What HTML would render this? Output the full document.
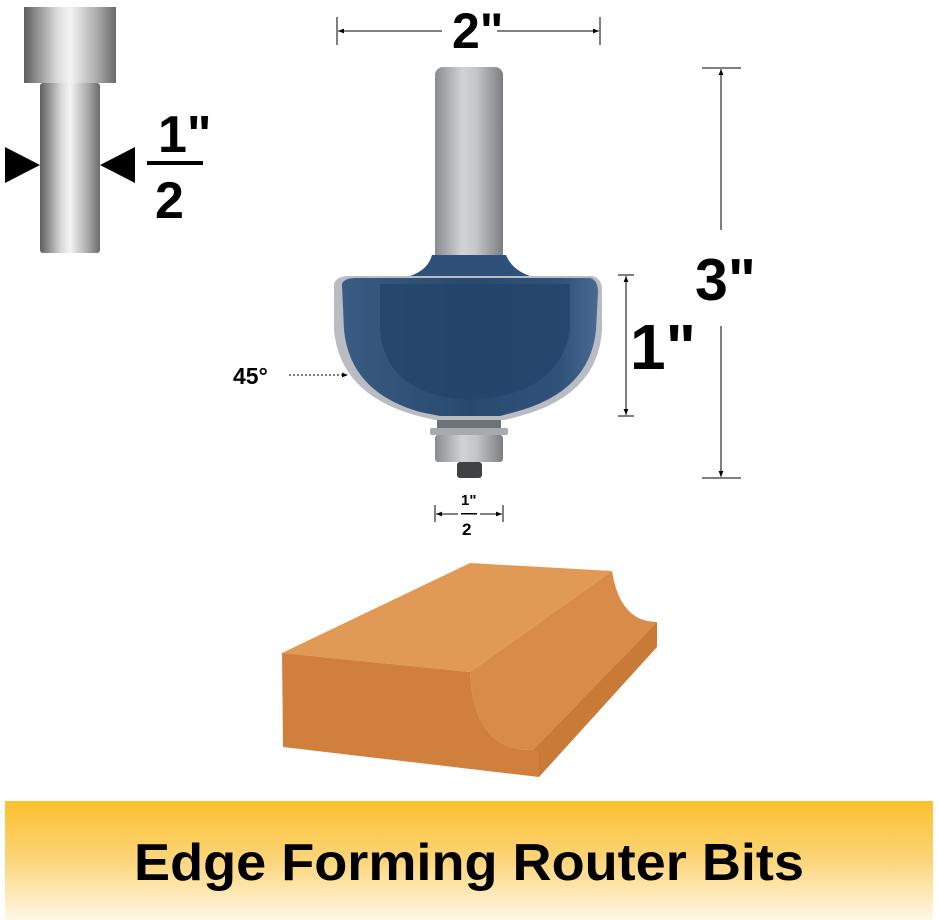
<!DOCTYPE html>
<html><head><meta charset="utf-8"><style>
html,body{margin:0;padding:0;background:#fff;width:938px;height:920px;overflow:hidden}
svg{display:block}
text{font-family:"Liberation Sans",sans-serif;font-weight:bold;fill:#000}
</style></head><body>
<svg width="938" height="920" viewBox="0 0 938 920" xmlns="http://www.w3.org/2000/svg">
<defs>
<linearGradient id="steel" x1="0" x2="1" y1="0" y2="0">
<stop offset="0" stop-color="#5e5e5e"/><stop offset="0.35" stop-color="#d8d8d8"/><stop offset="0.5" stop-color="#f4f4f4"/><stop offset="0.8" stop-color="#a9a9a9"/><stop offset="1" stop-color="#6a6a6a"/>
</linearGradient>
<linearGradient id="steel2" x1="0" x2="1" y1="0" y2="0">
<stop offset="0" stop-color="#8a8c90"/><stop offset="0.4" stop-color="#d0d2d6"/><stop offset="0.6" stop-color="#c4c6ca"/><stop offset="1" stop-color="#7c7e82"/>
</linearGradient>
<linearGradient id="blue" x1="0" x2="1" y1="0" y2="0">
<stop offset="0" stop-color="#3a5c84"/><stop offset="0.15" stop-color="#35557a"/><stop offset="0.5" stop-color="#294a70"/><stop offset="0.85" stop-color="#30527a"/><stop offset="1" stop-color="#4a6a90"/>
</linearGradient>
<linearGradient id="ban" x1="0" x2="0" y1="0" y2="1">
<stop offset="0" stop-color="#fbc02d"/><stop offset="0.5" stop-color="#fcd57a"/><stop offset="1" stop-color="#fff8e6"/>
</linearGradient>
<marker id="ar" viewBox="0 0 10 10" refX="10" refY="5" markerWidth="6" markerHeight="6" orient="auto-start-reverse"><path d="M0,1 L10,5 L0,9 z" fill="#000"/></marker>
</defs>

<!-- shank icon -->
<rect x="24" y="7" width="92" height="76" fill="url(#steel)"/>
<rect x="40" y="83" width="60" height="170" rx="3" fill="url(#steel)"/>
<path d="M5,147 L40,165 L5,183 z" fill="#000"/>
<path d="M135,147 L100,165 L135,183 z" fill="#000"/>
<text x="158" y="152" font-size="52">1"</text>
<rect x="147" y="161" width="56" height="4" fill="#000"/>
<text x="155" y="218" font-size="52">2</text>

<!-- 2" dimension -->
<line x1="337" y1="17" x2="337" y2="45" stroke="#000" stroke-width="1"/>
<line x1="600" y1="17" x2="600" y2="45" stroke="#000" stroke-width="1"/>
<line x1="338" y1="31" x2="442" y2="31" stroke="#000" stroke-width="1" marker-start="url(#ar)"/>
<line x1="497" y1="31" x2="599" y2="31" stroke="#000" stroke-width="1" marker-end="url(#ar)"/>
<text x="452" y="48" font-size="50">2"</text>

<!-- 3" dimension -->
<line x1="702" y1="68" x2="741" y2="68" stroke="#000"/>
<line x1="702" y1="478" x2="741" y2="478" stroke="#000"/>
<line x1="721" y1="69" x2="721" y2="230" stroke="#000" marker-start="url(#ar)"/>
<line x1="721" y1="326" x2="721" y2="477" stroke="#000" marker-end="url(#ar)"/>
<text x="695" y="300" font-size="59">3"</text>

<!-- 1" dimension -->
<line x1="618" y1="275" x2="634" y2="275" stroke="#000"/>
<line x1="618" y1="416" x2="634" y2="416" stroke="#000"/>
<line x1="626" y1="276" x2="626" y2="415" stroke="#000" marker-start="url(#ar)" marker-end="url(#ar)"/>
<text x="630" y="369" font-size="64">1"</text>

<!-- 45 -->
<text x="233" y="384" font-size="23">45°</text>
<line x1="289" y1="375" x2="348" y2="375" stroke="#000" stroke-dasharray="2,2" marker-end="url(#ar)"/>

<!-- small 1/2 -->
<line x1="435" y1="505" x2="435" y2="522" stroke="#000"/>
<line x1="503" y1="505" x2="503" y2="522" stroke="#000"/>
<line x1="436" y1="514" x2="458" y2="514" stroke="#000" marker-start="url(#ar)"/>
<line x1="480" y1="514" x2="502" y2="514" stroke="#000" marker-end="url(#ar)"/>
<text x="461" y="505" font-size="15">1"</text>
<rect x="461" y="513" width="16" height="1.5" fill="#000"/>
<text x="462" y="535" font-size="17">2</text>

<!-- router bit -->
<rect x="435" y="67" width="68" height="195" rx="8" fill="url(#steel2)"/>
<path d="M432,255 L506,255 Q512,270 530,276 L410,276 Q428,270 432,255 z" fill="#2f5179"/>
<path d="M334,284 Q336,276 350,276 L592,276 Q602,278 602,290 L602,330 Q598,395 520,416 L505,420 L435,420 L418,416 Q340,395 334,330 z" fill="#b9bcc2"/>
<path d="M342,284 Q344,278 356,278 L590,278 Q598,280 598,292 L596,330 Q590,392 515,412 L500,416 L440,416 L420,412 Q350,392 344,330 z" fill="url(#blue)"/>
<path d="M380,284 L570,284 L570,330 Q560,395 470,400 Q385,395 380,330 z" fill="#244569" opacity="0.8"/>
<rect x="437" y="420" width="64" height="8" fill="#6e7278"/>
<rect x="430" y="428" width="78" height="7" rx="2" fill="#a7aaaf"/>
<rect x="435" y="435" width="68" height="27" rx="3" fill="url(#steel2)"/>
<rect x="457" y="462" width="25" height="16" rx="3" fill="#3e4146"/>

<!-- wood block -->
<polygon points="282,653 470,563 612,571 470,672" fill="#e19a55"/>
<path d="M470,672 L612,571 Q620,622 657,622 L533,750 Q474,752 470,672 z" fill="#d98c47"/>
<path d="M533,750 L657,622 L657,647 L539,777 z" fill="#c97a36"/>
<path d="M282,653 L470,672 Q474,752 533,750 L539,752 L539,777 L283,747 z" fill="#d07f3c"/>

<!-- banner -->
<rect x="5" y="801" width="928" height="119" fill="url(#ban)"/>
<text x="469" y="880" font-size="52" text-anchor="middle" textLength="670" lengthAdjust="spacingAndGlyphs">Edge Forming Router Bits</text>
</svg>
</body></html>
